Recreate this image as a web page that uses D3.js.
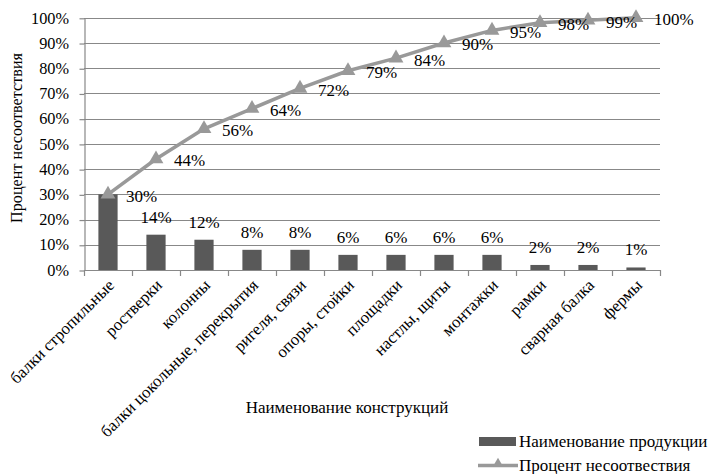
<!DOCTYPE html>
<html>
<head>
<meta charset="utf-8">
<script src="https://cdn.jsdelivr.net/npm/d3@7"></script>
<style>
  html, body { margin: 0; padding: 0; background: #fff; }
  svg { display: block; }
</style>
</head>
<body>
<svg id="chart" width="712" height="474"></svg>
<script>
// Pareto chart of nonconformities by structure type
const categories = [
  "балки стропильные", "ростверки", "колонны", "балки цокольные, перекрытия",
  "ригеля, связи", "опоры, стойки", "площадки", "настлы, щиты",
  "монтажки", "рамки", "сварная балка", "фермы"
];
const shareValues = [30, 14, 12, 8, 8, 6, 6, 6, 6, 2, 2, 1];
const cumulativeValues = [30, 44, 56, 64, 72, 79, 84, 90, 95, 98, 99, 100];
const yTicks = [0, 10, 20, 30, 40, 50, 60, 70, 80, 90, 100];

const barName = "Наименование продукции";
const lineName = "Процент несоотвествия";
const yTitle = "Процент несоответствия";
const xTitle = "Наименование конструкций";

const FONT = '"Liberation Serif", Tinos, "Times New Roman", Times, serif';
const barColor = "#595959";
const lineColor = "#999999";
const gridColor = "#888888";

const svg = d3.select("#chart");
const plot = { left: 84, right: 660, top: 17.8, bottom: 270 };

const x = d3.scaleBand()
  .domain(categories)
  .range([plot.left, plot.right])
  .paddingInner(0.6)
  .paddingOuter(0.3);
const y = d3.scaleLinear().domain([0, 100]).range([plot.bottom, plot.top]);
const cx = c => x(c) + x.bandwidth() / 2;

function addText(parent, size) {
  return parent.append("text")
    .style("font-family", FONT)
    .style("font-size", (size || 17) + "px")
    .attr("fill", "#000");
}

// horizontal gridlines
svg.append("g").selectAll("line")
  .data(yTicks.filter(t => t > 0))
  .join("line")
  .attr("x1", plot.left).attr("x2", plot.right)
  .attr("y1", d => Math.round(y(d)) + 0.5).attr("y2", d => Math.round(y(d)) + 0.5)
  .attr("stroke", gridColor).attr("stroke-width", 1.2);

// y axis line and ticks from the scale
const yAxis = svg.append("g")
  .attr("transform", `translate(${plot.left + 0.5},0)`)
  .call(d3.axisLeft(y).tickValues(yTicks).tickFormat(() => "").tickSize(5).tickSizeOuter(0));
yAxis.select(".domain").attr("stroke", gridColor).attr("stroke-width", 1.2);
yAxis.selectAll(".tick line").attr("stroke", gridColor).attr("stroke-width", 1.2)
  .attr("transform", "translate(0,0.5)");
yAxis.selectAll(".tick text").remove();
// y tick labels
yTicks.forEach(t => {
  addText(svg, 16.3)
    .attr("x", plot.left - 15)
    .attr("y", y(t))
    .attr("dy", "0.35em")
    .attr("text-anchor", "end")
    .text(t + "%");
});

// x axis: baseline, tick marks at category boundaries, rotated labels
const step = x.step();
const boundaries = categories.map(c => cx(c) - step / 2).concat([cx(categories[categories.length - 1]) + step / 2]);
const xg = svg.append("g");
xg.append("line")
  .attr("x1", plot.left).attr("x2", plot.right)
  .attr("y1", plot.bottom + 0.5).attr("y2", plot.bottom + 0.5)
  .attr("stroke", gridColor).attr("stroke-width", 1.2);
xg.selectAll("line.tk")
  .data(boundaries)
  .join("line")
  .attr("class", "tk")
  .attr("x1", d => Math.round(d) + 0.5).attr("x2", d => Math.round(d) + 0.5)
  .attr("y1", plot.bottom).attr("y2", plot.bottom + 6)
  .attr("stroke", gridColor).attr("stroke-width", 1.2);
categories.forEach(c => {
  addText(xg, 16.8)
    .attr("transform", `translate(${cx(c) + 3},${plot.bottom + 12}) rotate(-45)`)
    .attr("text-anchor", "end")
    .attr("dy", "0.35em")
    .text(c);
});

// bars
svg.append("g").selectAll("rect")
  .data(categories)
  .join("rect")
  .attr("x", c => x(c))
  .attr("width", x.bandwidth())
  .attr("y", (c, i) => y(shareValues[i]))
  .attr("height", (c, i) => y(0) - y(shareValues[i]))
  .attr("fill", barColor);

// bar value labels (the first one sits under the line label)
categories.forEach((c, i) => {
  if (i === 0) return;
  addText(svg)
    .attr("x", cx(c))
    .attr("y", y(shareValues[i]) - 12)
    .attr("text-anchor", "middle")
    .text(shareValues[i] + "%");
});

// cumulative line with triangle markers
const pts = categories.map((c, i) => [cx(c), y(cumulativeValues[i])]);
svg.append("path")
  .attr("d", d3.line()(pts))
  .attr("fill", "none")
  .attr("stroke", lineColor)
  .attr("stroke-width", 3.5)
  .attr("stroke-linejoin", "round");
svg.append("g").selectAll("path")
  .data(pts)
  .join("path")
  .attr("transform", d => `translate(${d[0]},${d[1]})`)
  .attr("d", d3.symbol(d3.symbolTriangle, 95)())
  .attr("fill", lineColor);

// cumulative value labels
pts.forEach((p, i) => {
  addText(svg)
    .attr("x", p[0] + 18)
    .attr("y", p[1] + 1.5)
    .attr("dy", "0.35em")
    .text(cumulativeValues[i] + "%");
});

// axis titles
addText(svg, 16.2)
  .attr("transform", `translate(16,138) rotate(-90)`)
  .attr("text-anchor", "middle")
  .attr("dy", "0.35em")
  .text(yTitle);
addText(svg)
  .attr("x", 347).attr("y", 407)
  .attr("text-anchor", "middle")
  .attr("dy", "0.35em")
  .text(xTitle);

// legend
const lg = svg.append("g");
lg.append("rect")
  .attr("x", 479).attr("y", 437).attr("width", 37).attr("height", 9)
  .attr("fill", barColor);
addText(lg)
  .attr("x", 519).attr("y", 441).attr("dy", "0.35em")
  .text(barName);
lg.append("line")
  .attr("x1", 478).attr("x2", 518).attr("y1", 465.5).attr("y2", 465.5)
  .attr("stroke", lineColor).attr("stroke-width", 3.5);
lg.append("path")
  .attr("transform", "translate(498,464)")
  .attr("d", d3.symbol(d3.symbolTriangle, 50)())
  .attr("fill", lineColor);
addText(lg)
  .attr("x", 519).attr("y", 465.5).attr("dy", "0.35em")
  .text(lineName);
</script>
</body>
</html>
